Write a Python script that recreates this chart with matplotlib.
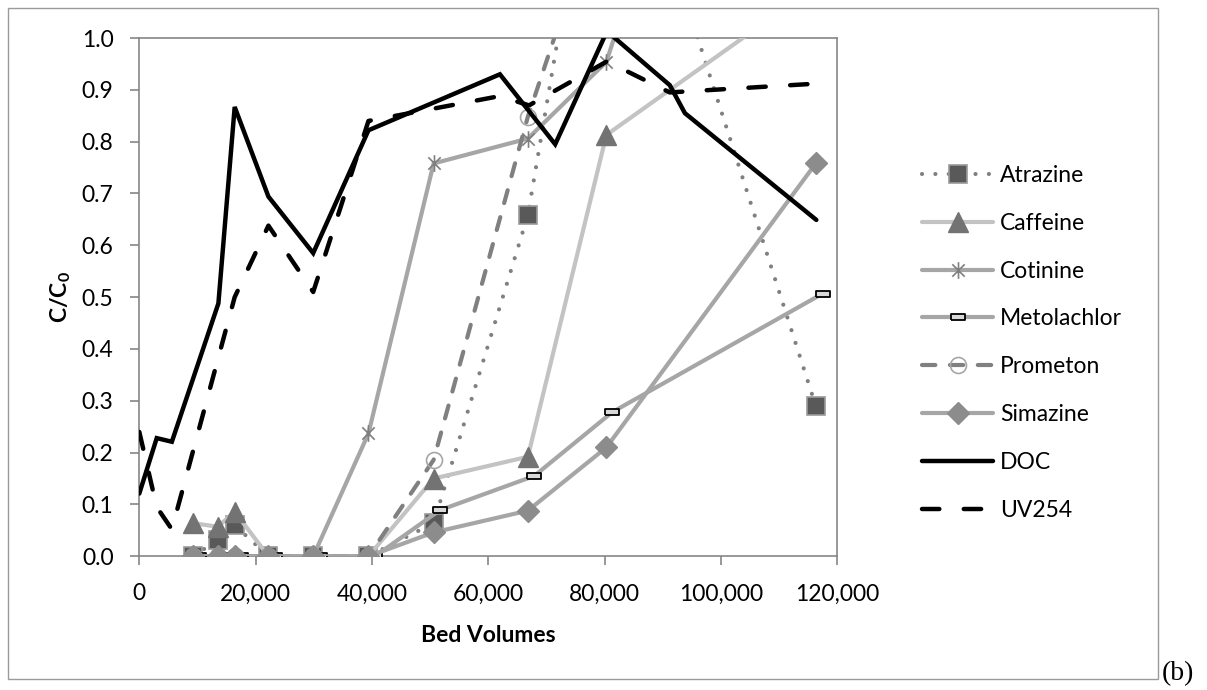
import numpy as np
import matplotlib
matplotlib.use("Agg")
import matplotlib.pyplot as plt
from matplotlib.path import Path
from matplotlib.patches import Rectangle
from matplotlib.ticker import FuncFormatter, MultipleLocator

# ---- data ----
bv = [9200, 13500, 16400, 22200, 29900, 39400, 50600, 66800, 80300, 116300]
atrazine = [0, 0.031, 0.060, 0, 0, 0, 0.064, 0.658, 1.55, 0.29]
caffeine = [0.064, 0.057, 0.086, 0, 0, 0, 0.150, 0.192, 0.813, 1.10]
cotinine = [0, 0, 0, 0, 0, 0.237, 0.758, 0.806, 0.954, 2.2]
prometon = [0, 0, 0, 0, 0, 0, 0.186, 0.848, 1.30, np.nan]
simazine = [0, 0, 0, 0, 0, 0, 0.046, 0.088, 0.210, 0.758]

meto_bv = [10300, 14600, 17500, 23300, 31000, 40500, 51700, 67900, 81300, 117500]
metolachlor = [0, 0, 0, 0, 0, 0, 0.089, 0.155, 0.278, 0.507]

doc_bv = [0, 3000, 5600, 13600, 16400, 22200, 29900, 39400, 62000, 71500,
          80400, 91200, 93800, 116400]
doc = [0.121, 0.228, 0.221, 0.488, 0.867, 0.694, 0.585, 0.822, 0.930, 0.795,
       1.013, 0.909, 0.855, 0.649]

uv_bv = [0, 3000, 5600, 16400, 22200, 29900, 39400, 62000, 67000, 80400,
         91200, 116400]
uv254 = [0.24, 0.095, 0.052, 0.50, 0.638, 0.51, 0.84, 0.888, 0.87, 0.955,
         0.895, 0.912]

# ---- style ----
plt.rcParams["font.family"] = ["Lato", "DejaVu Sans"]
plt.rcParams["mathtext.fontset"] = "custom"
plt.rcParams["mathtext.rm"] = "Lato"
plt.rcParams["mathtext.bf"] = "Lato:bold"

AXC = "#868686"
FS = 16.5
LW = 3.0

# custom markers
star = Path([(-1, -1), (1, 1), (-1, 1), (1, -1), (0, -1.35), (0, 1.35)],
            [Path.MOVETO, Path.LINETO, Path.MOVETO, Path.LINETO,
             Path.MOVETO, Path.LINETO])
rect = [(-1, -0.42), (1, -0.42), (1, 0.42), (-1, 0.42), (-1, -0.42)]

fig = plt.figure(figsize=(12.07, 6.9), dpi=100)
ax = fig.add_axes([0.1154, 0.1938, 0.5783, 0.7511])

ax.plot(bv, atrazine, color="#808080", lw=LW, dashes=(0.01, 3.2),
        dash_capstyle="round", marker="s", ms=12.5, mfc="#595959",
        mec="#9a9a9a", mew=1.2, label="Atrazine", zorder=3)
ax.plot(bv, caffeine, color="#c3c3c3", lw=LW, solid_capstyle="round",
        marker="^", ms=14, mfc="#737373", mec="#737373",
        label="Caffeine", zorder=3)
ax.plot(bv, cotinine, color="#a6a6a6", lw=LW, solid_capstyle="round",
        marker=star, ms=12, mfc="none", mec="#7f7f7f", mew=1.2,
        label="Cotinine", zorder=3)
ax.plot(meto_bv, metolachlor, color="#a6a6a6", lw=LW, solid_capstyle="round",
        marker=rect, ms=10, mfc="#d9d9d9", mec="black", mew=1.3,
        label="Metolachlor", zorder=3)
ax.plot(bv, prometon, color="#808080", lw=LW, dashes=(3.2, 3.5),
        dash_capstyle="round", marker="o", ms=11.5, mfc="none",
        mec="#a6a6a6", mew=1.2, label="Prometon", zorder=3)
ax.plot(bv, simazine, color="#a6a6a6", lw=LW, solid_capstyle="round",
        marker="D", ms=11, mfc="#8c8c8c", mec="#8c8c8c",
        label="Simazine", zorder=3)
ax.plot(doc_bv, doc, color="black", lw=3.2, solid_capstyle="round",
        solid_joinstyle="miter", label="DOC", zorder=4)
ax.plot(uv_bv, uv254, color="black", lw=3.2, dashes=(3.9, 5.5),
        dash_capstyle="round", label="UV254", zorder=4)

ax.set_xlim(0, 120000)
ax.set_ylim(0, 1.0)
ax.xaxis.set_major_locator(MultipleLocator(20000))
ax.yaxis.set_major_locator(MultipleLocator(0.1))
ax.xaxis.set_major_formatter(FuncFormatter(lambda v, p: f"{v:,.0f}"))
ax.yaxis.set_major_formatter(FuncFormatter(lambda v, p: f"{v:.1f}"))
ax.tick_params(axis="both", direction="out", length=6.5, width=1.2,
               color=AXC, labelsize=FS, labelcolor="black")
ax.tick_params(axis="x", pad=13)
ax.tick_params(axis="y", pad=12)
for sp in ax.spines.values():
    sp.set_color(AXC)
    sp.set_linewidth(1.2)

ax.set_xlabel("Bed Volumes", fontsize=FS, fontweight="bold")
ax.xaxis.set_label_coords(0.5, -0.132)
ax.set_ylabel(r"C/C$_{\mathbf{0}}$", fontsize=FS, fontweight="bold")
ax.yaxis.set_label_coords(-0.095, 0.5)

leg = ax.legend(loc="upper left", bbox_to_anchor=(922 / 1207, 1 - 165 / 690),
                bbox_transform=fig.transFigure, frameon=False, fontsize=FS,
                handlelength=3.1, handletextpad=0.3, labelspacing=1.17,
                borderpad=0, borderaxespad=0)

# outer frame and panel tag
fig.patches.append(Rectangle((8 / 1207, 11 / 690), 1150 / 1207, 671 / 690,
                             transform=fig.transFigure, fill=False,
                             edgecolor="#9a9a9a", lw=1))
fig.text(1162 / 1207, 10 / 690, "(b)", fontsize=20, va="baseline",
         family="Liberation Serif")

fig.savefig("out.png", dpi=100)
